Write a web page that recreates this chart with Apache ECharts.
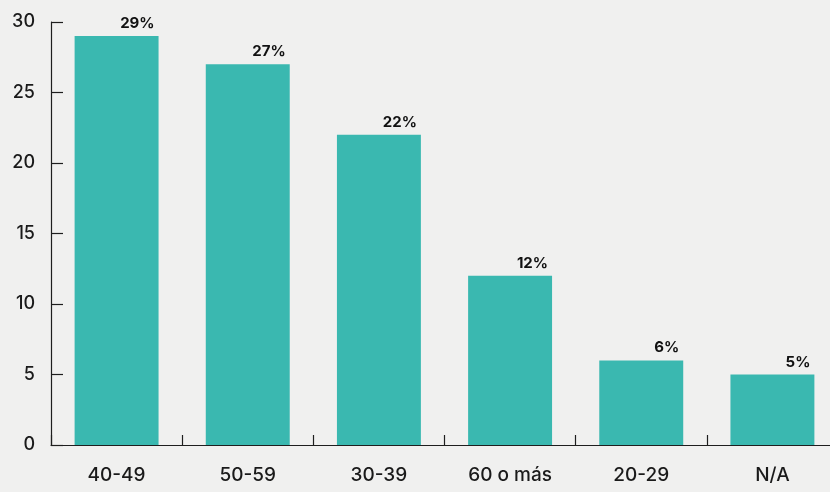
<!DOCTYPE html>
<html>
<head>
<meta charset="utf-8">
<script src="https://cdn.jsdelivr.net/npm/echarts@6/dist/echarts.min.js"></script>
<style>
  html, body { margin: 0; padding: 0; background: #f0f0ef; }
  #chart { width: 830px; height: 492px; }
</style>
</head>
<body>
<div id="chart"></div>
<script>
// Age groups and their share (%)
const categories = ['40-49', '50-59', '30-39', '60 o más', '20-29', 'N/A'];
const values = [29, 27, 22, 12, 6, 5];
const yTicks = [0, 5, 10, 15, 20, 25, 30];

const chart = echarts.init(document.getElementById('chart'), null, { renderer: 'canvas' });
const axisColor = '#1e1e1e';
const fontFamily = 'Inter, "Noto Sans", sans-serif';

chart.setOption({
  backgroundColor: '#f0f0ef',
  animation: false,
  // plot area runs slightly past the right edge of the canvas
  grid: {
    left: 51, width: 787, top: 22, bottom: 47,
    containLabel: false, outerBoundsMode: 'none'
  },
  xAxis: {
    type: 'category',
    data: categories,
    axisLine: { show: true, lineStyle: { color: axisColor, width: 1.2 } },
    axisTick: { show: true, inside: true, length: 10, lineStyle: { color: axisColor, width: 1.2 } },
    axisLabel: { color: '#1a1a1a', fontSize: 19, fontWeight: 500, fontFamily: fontFamily, margin: 21 },
    splitLine: { show: false }
  },
  yAxis: {
    type: 'value',
    min: yTicks[0],
    max: yTicks[yTicks.length - 1],
    interval: yTicks[1] - yTicks[0],
    axisLine: { show: true, lineStyle: { color: axisColor, width: 1.2 } },
    axisTick: { show: true, inside: true, length: 12, lineStyle: { color: axisColor, width: 1.2 } },
    axisLabel: {
      color: '#1a1a1a', fontSize: 18, fontWeight: 500, fontFamily: fontFamily,
      margin: 16, padding: [0, 0, 6, 0]
    },
    splitLine: { show: false }
  },
  series: [{
    type: 'bar',
    data: values,
    barWidth: '64%',
    itemStyle: { color: '#3ab8b0' },
    label: {
      show: true,
      position: ['100%', -5],
      align: 'right',
      verticalAlign: 'bottom',
      offset: [-4, 0],
      formatter: p => p.value + '%',
      color: '#111',
      fontSize: 15,
      fontWeight: 'bold',
      fontFamily: fontFamily
    }
  }]
});
</script>
</body>
</html>
